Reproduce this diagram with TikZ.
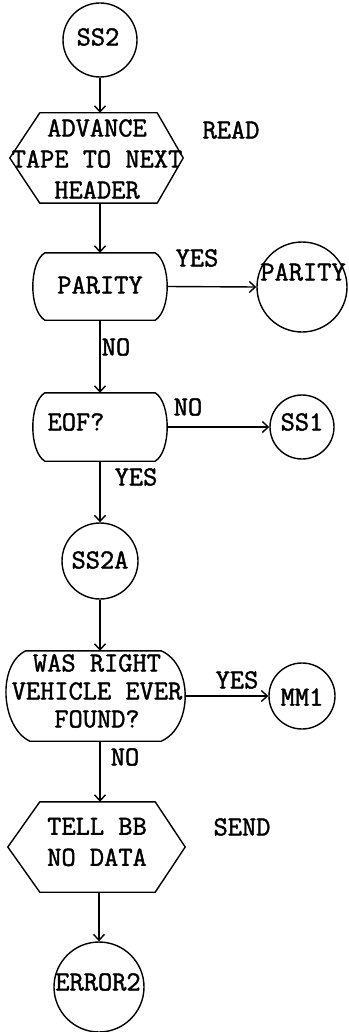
\documentclass[tikz,border=0pt]{standalone}
\usepackage{fontspec}
\usetikzlibrary{arrows.meta}
\newfontfamily\typewriter{Latin Modern Mono}[FakeBold=1.6]
\begin{document}
\begin{tikzpicture}[x=1pt,y=-1pt,
  every node/.style={inner sep=0pt,text=black},
  txt/.style={font=\typewriter\fontsize{27.6}{30}\selectfont,align=center},
  flow/.style={line width=1.4pt,line join=round},
  arr/.style={flow,-{Straight Barb[length=6pt,width=11pt,line width=1.4pt]}},
  circ/.style={circle,draw,line width=1.4pt},
  outline/.style={rectangle,draw=none},
]
\useasboundingbox (0,0) rectangle (348,1032);

% --- shape outlines (named, used by the connectors) ---
\node[circ,minimum size=74pt] (ss2) at (100,40) {};
\node[outline,minimum width=173pt,minimum height=90pt] (adv) at (96.5,158) {};
\node[outline,minimum width=134pt,minimum height=67pt] (par) at (100,286.5) {};
\node[circ,minimum size=90pt] (pcirc) at (302,287) {};
\node[outline,minimum width=134pt,minimum height=68pt] (eof) at (100,427) {};
\node[circ,minimum size=64pt] (ss1) at (302,427) {};
\node[circ,minimum size=76pt] (ss2a) at (100,561) {};
\node[outline,minimum width=177pt,minimum height=90pt] (was) at (96.5,696) {};
\node[circ,minimum size=66pt] (mm1) at (302,696) {};
\node[outline,minimum width=177pt,minimum height=90pt] (tell) at (96.5,847) {};
\node[circ,minimum size=90pt] (err) at (99,987) {};

% hexagons (input/output steps)
\draw[flow] ([xshift=30pt]adv.north west) -- ([xshift=-26pt]adv.north east) -- (adv.east)
  -- ([xshift=-26pt]adv.south east) -- ([xshift=30pt]adv.south west) -- (adv.west) -- cycle;
\draw[flow] ([xshift=32pt]tell.north west) -- ([xshift=-30pt]tell.north east) -- (tell.east)
  -- ([xshift=-30pt]tell.south east) -- ([xshift=32pt]tell.south west) -- (tell.west) -- cycle;

% decision boxes with bulging sides
\draw[flow] ([xshift=12pt]par.north west) -- ([xshift=-12pt]par.north east)
  .. controls +(16,10) and +(16,-10) .. ([xshift=-12pt]par.south east)
  -- ([xshift=12pt]par.south west)
  .. controls +(-16,-10) and +(-16,10) .. ([xshift=12pt]par.north west) -- cycle;
\draw[flow] ([xshift=12pt]eof.north west) -- ([xshift=-12pt]eof.north east)
  .. controls +(16,10) and +(16,-10) .. ([xshift=-12pt]eof.south east)
  -- ([xshift=12pt]eof.south west)
  .. controls +(-16,-10) and +(-16,10) .. ([xshift=12pt]eof.north west) -- cycle;
\draw[flow] ([xshift=18pt]was.north west) -- ([xshift=-24pt]was.north east)
  .. controls +(32,14) and +(32,-14) .. ([xshift=-24pt]was.south east)
  -- ([xshift=22pt]was.south west)
  .. controls +(-29,-14) and +(-29,14) .. ([xshift=18pt]was.north west) -- cycle;

% --- texts ---
\node[txt] (ss2T) at (98,37) {SS2};
\node[txt,font=\typewriter\fontsize{27.6}{31}\selectfont] (advT) at (97,159) {ADVANCE\\TAPE TO NEXT\\HEADER};
\node[txt] (parT) at (100,285) {PARITY};
\node[txt] (pcircT) at (303,272) {PARITY};
\node[txt] (eofT) at (76,422) {EOF?};
\node[txt] (ss1T) at (302,422) {SS1};
\node[txt] (ss2aT) at (100,560) {SS2A};
\node[txt,font=\typewriter\fontsize{27.6}{28}\selectfont] (wasT) at (97,691) {WAS RIGHT\\VEHICLE EVER\\FOUND?};
\node[txt] (mm1T) at (302,697) {MM1};
\node[txt,font=\typewriter\fontsize{27.6}{31}\selectfont] (tellT) at (97,842) {TELL BB\\NO DATA};
\node[txt] (errT) at (98,982) {ERROR2};

% side notes and branch labels
\node[txt] (readL) at (231,130) {READ};
\node[txt] (sendL) at (242,827) {SEND};
\node[txt] (yes1) at (197,258) {YES};
\node[txt] (no1) at (116,347) {NO};
\node[txt] (no2) at (188,407) {NO};
\node[txt] (yes2) at (136,477) {YES};
\node[txt] (yes3) at (237,680) {YES};
\node[txt] (no3) at (125,757) {NO};

% --- connectors ---
\draw[arr] (ss2.south) -- (ss2.south |- adv.north);
\draw[arr] (par.north |- adv.south) -- (par.north);
\draw[arr] (par.east) -- (pcirc.west);
\draw[arr] (par.south) -- (eof.north);
\draw[arr] (eof.east) -- (ss1.west);
\draw[arr] (eof.south) -- (ss2a.north);
\draw[arr] (ss2a.south) -- (ss2a.south |- was.north);
\draw[arr] (was.east) -- (mm1.west);
\draw[arr] (was.south -| ss2a) -- (tell.north -| ss2a);
\draw[arr] (tell.south -| err) -- (err.north);
\end{tikzpicture}
\end{document}
